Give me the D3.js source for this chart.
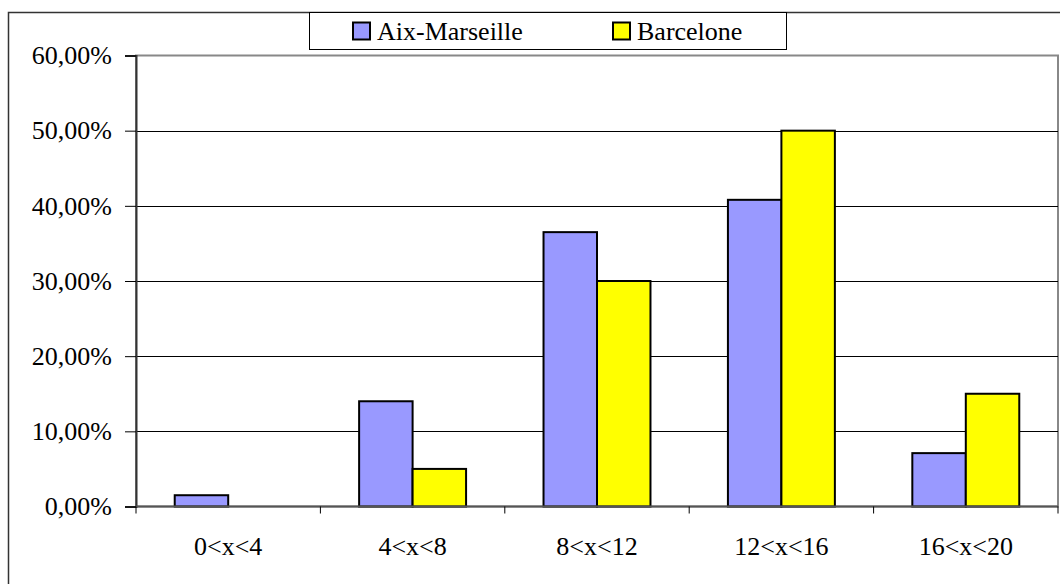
<!DOCTYPE html>
<html>
<head>
<meta charset="utf-8">
<script src="https://cdn.jsdelivr.net/npm/d3@7"></script>
<style>
html,body{margin:0;padding:0;background:#fff;overflow:hidden;}
svg{display:block;}
</style>
</head>
<body>
<script>
const categories = ["0<x<4", "4<x<8", "8<x<12", "12<x<16", "16<x<20"];
const seriesNames = ["Aix-Marseille", "Barcelone"];
const aixValues = [1.5, 14, 36.5, 40.8, 7.1];
const barcValues = [0, 5, 30, 50, 15];
const yTicks = [0, 10, 20, 30, 40, 50, 60];
const colors = ["#9999FF", "#FFFF00"];

(function () {
const FONT = "'Liberation Serif', 'Times New Roman', Times, 'DejaVu Serif', serif";
const W = 1060, H = 584;
const svg = d3.select("body").append("svg").attr("width", W).attr("height", H);

svg.append("rect").attr("x", 8.5).attr("y", 12.5).attr("width", W + 10).attr("height", H + 10)
  .attr("fill", "#fff").attr("stroke", "#333").attr("stroke-width", 1.5);

const pL = 136, pR = 1058, pT = 55.5, pB = 506.5;
const x = d3.scaleBand().domain(categories).range([pL, pR]).paddingInner(0).paddingOuter(0);
const y = d3.scaleLinear().domain([0, 60]).range([pB, pT]);

svg.append("rect").attr("x", pL).attr("y", pT).attr("width", pR - pL).attr("height", pB - pT)
  .attr("fill", "#fff").attr("stroke", "#888").attr("stroke-width", 2);

svg.append("g").selectAll("line").data(yTicks.filter(d => d > 0 && d < 60)).join("line")
  .attr("x1", pL).attr("x2", pR)
  .attr("y1", d => Math.round(y(d)) + 0.5).attr("y2", d => Math.round(y(d)) + 0.5)
  .attr("stroke", "#000").attr("stroke-width", 1);

const data = [aixValues, barcValues];
const bw = x.bandwidth() * 0.29;
const g = svg.append("g");
data.forEach((vals, si) => {
  g.selectAll(null).data(vals.map((v, i) => ({v, c: categories[i]})).filter(d => d.v > 0)).join("rect")
    .attr("x", d => x(d.c) + x.bandwidth() / 2 - bw + si * bw)
    .attr("y", d => y(d.v))
    .attr("width", bw)
    .attr("height", d => y(0) - y(d.v))
    .attr("fill", colors[si])
    .attr("stroke", "#000").attr("stroke-width", 2);
});

const yAxis = d3.axisLeft(y).tickValues(yTicks).tickSize(11).tickPadding(13)
  .tickFormat(d => d3.format(".2f")(d).replace(".", ",") + "%");
const ya = svg.append("g").attr("transform", `translate(${pL},0)`).call(yAxis);
ya.attr("font-family", null).attr("font-size", null);
ya.select(".domain").attr("stroke", "#333").attr("stroke-width", 2);
ya.selectAll(".tick line").attr("stroke", "#000");
ya.selectAll("text").style("font-family", FONT).style("font-size", "26px").attr("fill", "#000");

const xa = svg.append("g").attr("transform", `translate(0,${pB})`);
xa.append("line").attr("x1", pL).attr("x2", pR).attr("y1", 0).attr("y2", 0)
  .attr("stroke", "#555").attr("stroke-width", 2);
const bounds = categories.map(c => x(c)).concat([pR]);
xa.selectAll(".xt").data(bounds).join("line").attr("class", "xt")
  .attr("x1", d => d).attr("x2", d => d).attr("y1", 0).attr("y2", 7)
  .attr("stroke", "#000").attr("stroke-width", 1);
xa.selectAll(".xl").data(categories).join("text").attr("class", "xl")
  .attr("x", d => x(d) + x.bandwidth() / 2).attr("y", 48.5)
  .attr("text-anchor", "middle").style("font-family", FONT).style("font-size", "26px").text(d => d);

const lg = svg.append("g");
lg.append("rect").attr("x", 309.5).attr("y", 12.5).attr("width", 477).attr("height", 37)
  .attr("fill", "#fff").attr("stroke", "#000").attr("stroke-width", 1);
const legX = [353, 613];
seriesNames.forEach((n, i) => {
  lg.append("rect").attr("x", legX[i]).attr("y", 22.5).attr("width", 17).attr("height", 17)
    .attr("fill", colors[i]).attr("stroke", "#000").attr("stroke-width", 2);
  lg.append("text").attr("x", legX[i] + 24).attr("y", 40)
    .style("font-family", FONT).style("font-size", "26px").text(n);
});
})();
</script>
</body>
</html>
